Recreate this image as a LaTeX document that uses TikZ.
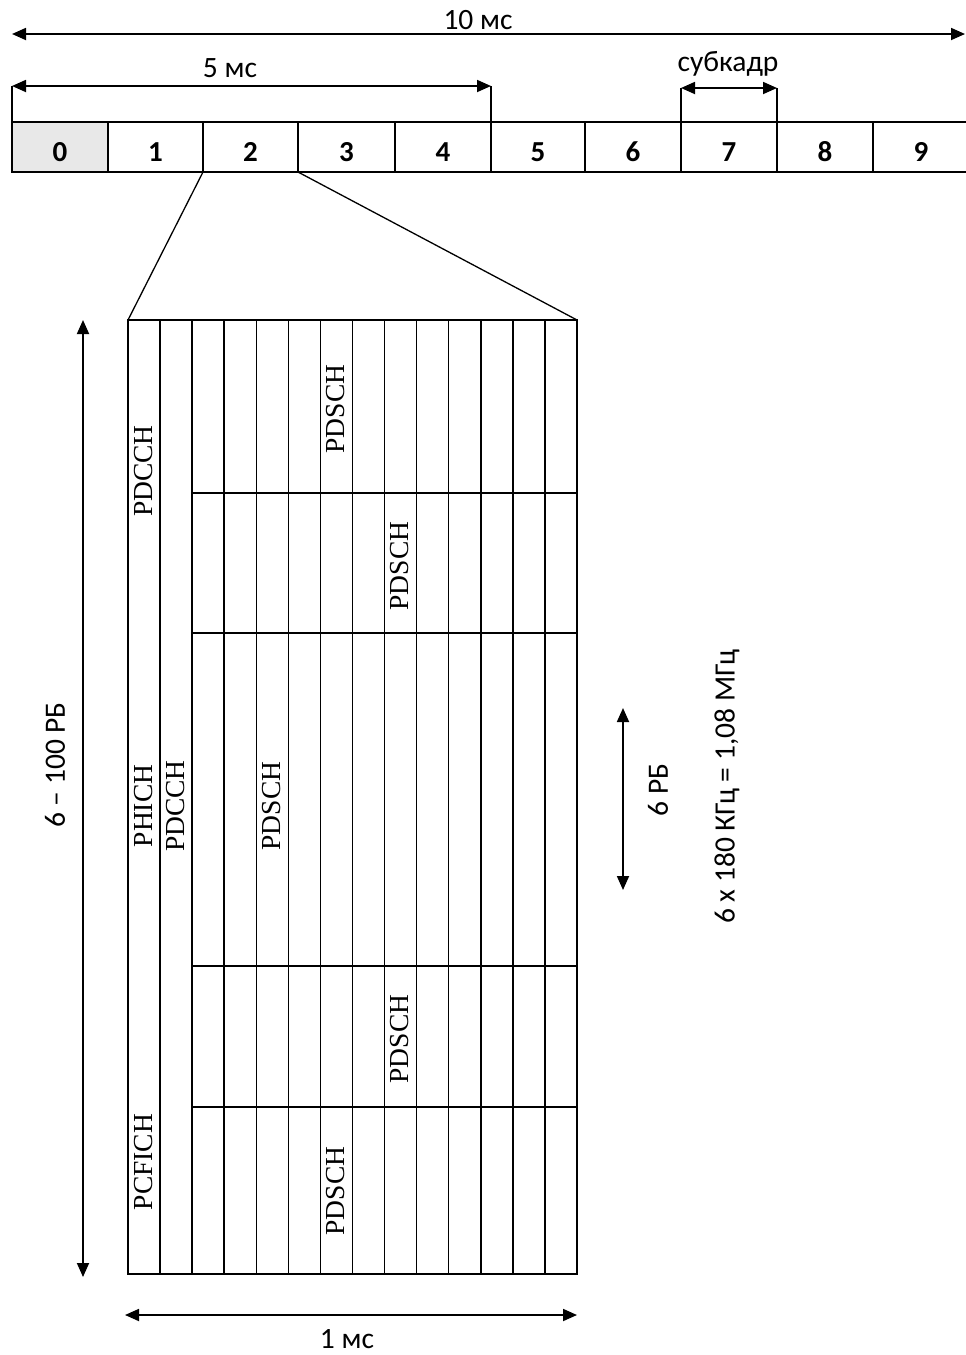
\documentclass[tikz,border=0pt]{standalone}
\usepackage{fontspec}
\setmainfont{Liberation Serif}
\newfontfamily\calfont{Carlito}
\usetikzlibrary{arrows.meta}
\begin{document}
\begin{tikzpicture}[x=1pt,y=-1pt,
  dim/.style={line width=1.8pt,{Triangle[length=14pt,width=12pt]}-{Triangle[length=14pt,width=12pt]}},
  lbl/.style={font=\calfont\fontsize{29.5}{32}\selectfont, inner sep=0},
  sfbox/.style={draw, line width=1.8pt, minimum height=50pt, inner sep=0, outer sep=0, anchor=north west,
     font=\calfont\bfseries\fontsize{29}{30}\selectfont, text height=28pt, text depth=0pt},
  ch/.style={font=\fontsize{27.5}{30}\selectfont, rotate=90, inner sep=0},
  gl/.style={line width=1.5pt},
  tick/.style={line width=1.8pt}]
\useasboundingbox (0,0) rectangle (966,1355);

% subframe row
\foreach \i/\a/\b/\f in {0/12/108/gray!18,1/108/203/white,2/203/298/white,3/298/395/white,4/395/491/white,5/491/585/white,6/585/681/white,7/681/777/white,8/777/873/white,9/873/969/white}{
  \pgfmathsetmacro{\w}{\b-\a}
  \node[sfbox, minimum width=\w pt, fill=\f] (s\i) at (\a,122) {\i};
}

% 10 ms
\coordinate (a10l) at (12,34);
\coordinate (a10r) at (965,34);
\draw[dim] (a10l) -- (a10r);
\node[lbl] (t10) at (478,20) {10 мс};

% 5 ms
\coordinate (a5l) at (s0.north west |- 0,86);
\coordinate (a5r) at (s4.north east |- 0,86);
\draw[dim] (a5l) -- (a5r);
\draw[tick] (a5l) -- (s0.north west);
\draw[tick] (a5r) -- (s4.north east);
\node[lbl] (t5) at (230,68) {5 мс};

% subframe
\coordinate (asl) at (s7.north west |- 0,88);
\coordinate (asr) at (s7.north east |- 0,88);
\draw[dim] (asl) -- (asr);
\draw[tick] (asl) -- (s7.north west);
\draw[tick] (asr) -- (s7.north east);
\node[lbl] (tsub) at (728,64) {субкадр};

% resource grid
\node[draw, gl, minimum width=449pt, minimum height=954pt, anchor=north west, inner sep=0, outer sep=0] (grid) at (128,320) {};
\foreach \k in {1,...,13}{
  \draw[gl] (128+\k*32.07,320) -- (128+\k*32.07,1274);
}
\foreach \y in {493,633,966,1107}{
  \draw[gl] (192.3,\y) -- (577,\y);
}

% zoom lines
\draw[line width=1.3pt] (s2.south west) -- (grid.north west);
\draw[line width=1.3pt] (s2.south east) -- (grid.north east);

% channel labels
\node[ch] (c1) at (144,471) {PDCCH};
\node[ch] (c2) at (144,806) {PHICH};
\node[ch] (c3) at (144,1162) {PCFICH};
\node[ch] (c4) at (176,806) {PDCCH};
\node[ch] (c5) at (336,409) {PDSCH};
\node[ch] (c6) at (400,566) {PDSCH};
\node[ch] (c7) at (272,806) {PDSCH};
\node[ch] (c8) at (400,1039) {PDSCH};
\node[ch] (c9) at (336,1191) {PDSCH};

% left bandwidth arrow
\coordinate (lvt) at (83,320);
\coordinate (lvb) at (83,1277);
\draw[dim] (lvt) -- (lvb);
\node[lbl, rotate=90] (tbw) at (55,765) {6 – 100 РБ};

% right 6 RB arrow
\coordinate (rvt) at (623,708);
\coordinate (rvb) at (623,890);
\draw[dim] (rvt) -- (rvb);
\node[lbl, rotate=90] (t6rb) at (658,790) {6 РБ};
\node[lbl, rotate=90] (tfreq) at (727,787) {6 x 180 КГц = 1,08 МГц};

% 1 ms
\coordinate (b1l) at (125,1315);
\coordinate (b1r) at (577,1315);
\draw[dim] (b1l) -- (b1r);
\node[lbl] (t1) at (347,1339) {1 мс};
\end{tikzpicture}
\end{document}
